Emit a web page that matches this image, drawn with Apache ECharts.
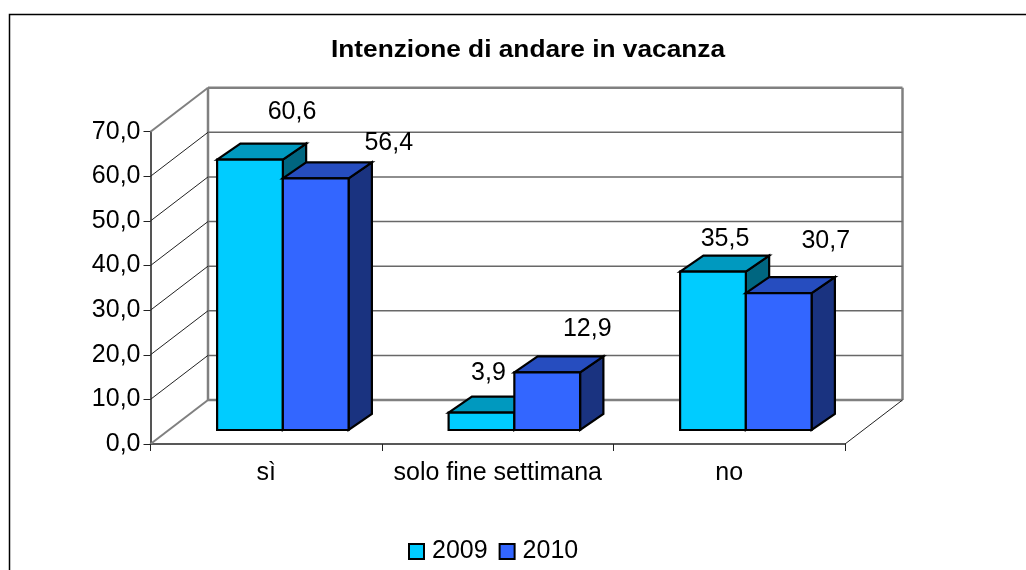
<!DOCTYPE html>
<html>
<head>
<meta charset="utf-8">
<style>
  html, body { margin: 0; padding: 0; background: #fff; }
  #chart { width: 1026px; height: 570px; }
</style>
</head>
<body>
<div id="chart"></div>
<script src="https://cdn.jsdelivr.net/npm/echarts@6/dist/echarts.min.js"></script>
<script>
const categories = ['sì', 'solo fine settimana', 'no']
const values2009 = [60.6, 3.9, 35.5]
const values2010 = [56.4, 12.9, 30.7]
const yTicks = [0, 10, 20, 30, 40, 50, 60, 70]

// hand placed data labels in the original, offset from the top of each bar
const labelNudge2009 = [[41, -50], [6, -41], [11, -35]]
const labelNudge2010 = [[72, -37], [39, -45], [46, -54]]

const FONT = '"Liberation Sans", Arial, sans-serif'
const WALL_DX = 57.5, WALL_DY = -44     // depth of the whole plot box
const BAR_DX = 23.3, BAR_DY = -16       // depth of one bar
const FLOOR_DX = 16.6, FLOOR_DY = -14   // front of the bars, seen from the axis
const BAR_SHARE = 0.284                 // bar width as share of a category

// back wall, floor and side wall
function renderWalls(params, api) {
  const c = params.coordSys
  const y = api.coord([0, api.value(0)])[1]
  const v = api.value(0)
  const outer = v === 0 || v === yTicks[yTicks.length - 1]
  const wall = { stroke: '#808080', lineWidth: 2.5, fill: null }
  const thin = { stroke: '#222', lineWidth: 1, fill: null }
  const children = [{
    type: 'line',
    shape: { x1: c.x, y1: y, x2: c.x + WALL_DX, y2: y + WALL_DY },
    style: outer ? { stroke: '#808080', lineWidth: 2, fill: null } : thin
  }, {
    type: 'line',
    shape: { x1: c.x + WALL_DX, y1: y + WALL_DY, x2: c.x + c.width + WALL_DX, y2: y + WALL_DY },
    style: outer ? wall : { stroke: '#686868', lineWidth: 1.5, fill: null }
  }]
  if (v === 0) {
    children.push({
      type: 'line',
      shape: { x1: c.x + WALL_DX, y1: y + WALL_DY, x2: c.x + WALL_DX, y2: c.y + WALL_DY },
      style: wall
    }, {
      type: 'line',
      shape: { x1: c.x + c.width + WALL_DX, y1: y + WALL_DY, x2: c.x + c.width + WALL_DX, y2: c.y + WALL_DY },
      style: wall
    }, {
      type: 'line',
      shape: { x1: c.x + c.width, y1: y, x2: c.x + c.width + WALL_DX, y2: y + WALL_DY },
      style: thin
    })
  }
  return { type: 'group', children }
}

function makeBarRender(side, front, top, dark, labels) {
  return function (params, api) {
    const cat = api.value(0)
    const band = api.size([1, 0])[0]
    const w = band * BAR_SHARE
    const p = api.coord([cat, api.value(1)])
    const base = api.coord([cat, 0])
    const x0 = p[0] + FLOOR_DX + (side < 0 ? -w : 0)
    const x1 = x0 + w
    const yTop = p[1] + FLOOR_DY
    const yBot = base[1] + FLOOR_DY
    const edge = { stroke: '#000', lineWidth: 2.2, lineJoin: 'miter' }
    const nudge = labels[params.dataIndexInside]
    return {
      type: 'group',
      children: [{
        type: 'polygon',
        shape: { points: [[x1, yTop], [x1 + BAR_DX, yTop + BAR_DY], [x1 + BAR_DX, yBot + BAR_DY], [x1, yBot]] },
        style: Object.assign({ fill: dark }, edge)
      }, {
        type: 'polygon',
        shape: { points: [[x0, yTop], [x0 + BAR_DX, yTop + BAR_DY], [x1 + BAR_DX, yTop + BAR_DY], [x1, yTop]] },
        style: Object.assign({ fill: top }, edge)
      }, {
        type: 'rect',
        shape: { x: x0, y: yTop, width: w, height: yBot - yTop },
        style: Object.assign({ fill: front }, edge)
      }, {
        type: 'text',
        x: (x0 + x1) / 2 + nudge[0] + 1,
        y: yTop + nudge[1] + 2,
        style: {
          text: api.value(1).toFixed(1).replace('.', ','),
          font: '25px ' + FONT,
          fill: '#000',
          align: 'center',
          verticalAlign: 'middle'
        }
      }]
    }
  }
}

const chart = echarts.init(document.getElementById('chart'))
chart.setOption({
  backgroundColor: '#fff',
  animation: false,
  legend: {
    left: 403,
    top: 534,
    itemWidth: 15,
    itemHeight: 15,
    itemGap: 11,
    textStyle: { fontFamily: FONT, fontSize: 25, color: '#000', padding: [0, 0, 0, 3] },
    data: [
      { name: '2009', icon: 'rect', itemStyle: { color: '#00CCFF', borderColor: '#000', borderWidth: 2 } },
      { name: '2010', icon: 'rect', itemStyle: { color: '#3366FF', borderColor: '#000', borderWidth: 2 } }
    ]
  },
  grid: { left: 150.5, right: 181, top: 131.7, bottom: 126 },
  xAxis: {
    type: 'category',
    data: categories,
    axisLine: { lineStyle: { color: '#222', width: 1.5 } },
    axisTick: { show: true, length: 7, alignWithLabel: false, lineStyle: { color: '#222', width: 1 } },
    axisLabel: { fontFamily: FONT, fontSize: 25, color: '#000', margin: 17, interval: 0 },
    splitLine: { show: false }
  },
  yAxis: {
    type: 'value',
    min: 0,
    max: 70,
    interval: 10,
    axisLine: { show: true, lineStyle: { color: '#555', width: 2 } },
    axisTick: { show: true, length: 7, lineStyle: { color: '#222', width: 1 } },
    axisLabel: {
      fontFamily: FONT, fontSize: 25, color: '#000', margin: 10,
      formatter: v => v.toFixed(1).replace('.', ',')
    },
    splitLine: { show: false }
  },
  series: [{
    type: 'custom',
    silent: true,
    coordinateSystem: 'cartesian2d',
    data: yTicks.map(v => [v]),
    encode: { y: 0 },
    renderItem: renderWalls,
    z: 1
  }, {
    name: '2009',
    type: 'custom',
    data: categories.map((c, i) => [i, values2009[i]]),
    encode: { x: 0, y: 1 },
    renderItem: makeBarRender(-1, '#00CCFF', '#0099BF', '#006680', labelNudge2009),
    itemStyle: { color: '#00CCFF' },
    z: 2
  }, {
    name: '2010',
    type: 'custom',
    data: categories.map((c, i) => [i, values2010[i]]),
    encode: { x: 0, y: 1 },
    renderItem: makeBarRender(1, '#3366FF', '#264DBF', '#1A3380', labelNudge2010),
    itemStyle: { color: '#3366FF' },
    z: 3
  }],
  graphic: [{
    type: 'polyline',
    silent: true,
    shape: { points: [[9.5, 570], [9.5, 14.5], [1026, 14.5]] },
    style: { stroke: '#000', lineWidth: 1.5, fill: null }
  }, {
    // the title is letter spaced in the original, stretched here to the same width
    type: 'text',
    silent: true,
    x: 528,
    y: 51,
    scaleX: 1.142,
    style: {
      text: 'Intenzione di andare in vacanza',
      font: 'bold 23px ' + FONT,
      fill: '#000',
      align: 'center',
      verticalAlign: 'middle'
    }
  }]
})
</script>
</body>
</html>
